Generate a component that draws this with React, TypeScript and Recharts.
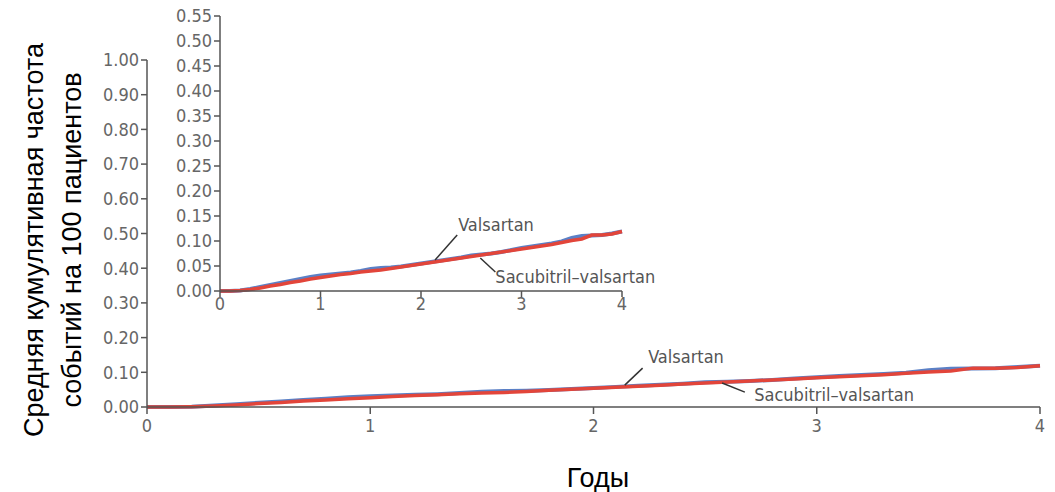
import React from 'react';
import { LineChart, Line, XAxis, YAxis, ReferenceLine, ReferenceDot } from 'recharts';

const years = [
  0, 0.1, 0.2, 0.3, 0.4, 0.5, 0.6, 0.7, 0.8, 0.9, 1, 1.1, 1.2, 1.3, 1.4, 1.5, 1.6, 1.7, 1.8, 1.9, 2,
  2.1, 2.2, 2.3, 2.4, 2.5, 2.6, 2.7, 2.8, 2.9, 3, 3.1, 3.2, 3.3, 3.4, 3.5, 3.6, 3.7, 3.8, 3.9, 4,
];
const valsartan = [
  0, 0, 0.001, 0.004, 0.008, 0.012, 0.016, 0.02, 0.024, 0.028, 0.031, 0.033, 0.035, 0.037, 0.04, 0.044,
  0.046, 0.047, 0.049, 0.052, 0.055, 0.058, 0.061, 0.064, 0.067, 0.071, 0.073, 0.075, 0.078, 0.082, 0.086,
  0.089, 0.092, 0.095, 0.099, 0.106, 0.11, 0.111, 0.112, 0.115, 0.119,
];
const sacubitril = [
  0, 0, 0.001, 0.003, 0.006, 0.01, 0.013, 0.017, 0.02, 0.024, 0.027, 0.03, 0.033, 0.035, 0.038, 0.04,
  0.042, 0.045, 0.048, 0.051, 0.054, 0.057, 0.06, 0.063, 0.066, 0.069, 0.072, 0.075, 0.078, 0.081, 0.084,
  0.087, 0.09, 0.093, 0.097, 0.101, 0.104, 0.112, 0.112, 0.114, 0.119,
];
const xTicks = [0, 1, 2, 3, 4];
const mainYTicks = [0, 0.1, 0.2, 0.3, 0.4, 0.5, 0.6, 0.7, 0.8, 0.9, 1];
const insetYTicks = [0, 0.05, 0.1, 0.15, 0.2, 0.25, 0.3, 0.35, 0.4, 0.45, 0.5, 0.55];
const seriesNames = ['Valsartan', 'Sacubitril–valsartan'];
const yTitle = ['Средняя кумулятивная частота', 'событий на 100 пациентов'];
const xTitle = 'Годы';

const data = years.map((t, i) => ({ t, v: valsartan[i], s: sacubitril[i] }));

const BLUE = '#5b80c6';
const RED = '#e2453a';
const AXIS = '#555';
const tickFont = {
  fill: '#666',
  fontSize: 18,
  fontFamily: '"DejaVu Sans Condensed", "Liberation Sans Narrow", sans-serif',
};
const noteLabel = (value: string) => ({
  value,
  position: 'right' as const,
  offset: 0,
  ...tickFont,
  fill: '#555',
});

function Series() {
  return [
    <Line key="v" dataKey="v" type="linear" stroke={BLUE} strokeWidth={4} dot={false} isAnimationActive={false} />,
    <Line key="s" dataKey="s" type="linear" stroke={RED} strokeWidth={3.5} dot={false} isAnimationActive={false} />,
  ];
}

export default function App() {
  return (
    <div style={{ position: 'absolute', left: 0, top: 0, width: 1055, height: 492, background: '#fff' }}>
      <div style={{ position: 'absolute', left: 0, top: 0 }}>
        <LineChart width={1055} height={492} data={data} margin={{ top: 60, right: 15, bottom: 0, left: 0 }}>
          <XAxis
            dataKey="t"
            type="number"
            domain={[0, 4]}
            ticks={xTicks}
            interval={0}
            height={85}
            stroke={AXIS}
            strokeWidth={1.5}
            tickSize={7}
            tickMargin={5}
            tick={tickFont}
          />
          <YAxis
            type="number"
            domain={[0, 1]}
            ticks={mainYTicks}
            interval={0}
            width={147}
            stroke={AXIS}
            strokeWidth={1.5}
            tickSize={6}
            tick={tickFont}
            tickFormatter={(v: number) => v.toFixed(2)}
          />
          {Series()}
          <ReferenceLine segment={[{ x: 2.14, y: 0.063 }, { x: 2.22, y: 0.112 }]} stroke="#333" strokeWidth={1.5} />
          <ReferenceDot x={2.245} y={0.144} r={0} label={noteLabel(seriesNames[0])} />
          <ReferenceLine segment={[{ x: 2.576, y: 0.069 }, { x: 2.678, y: 0.043 }]} stroke="#333" strokeWidth={1.5} />
          <ReferenceDot x={2.72} y={0.035} r={0} label={noteLabel(seriesNames[1])} />
        </LineChart>
      </div>
      <div style={{ position: 'absolute', left: 0, top: 0 }}>
        <LineChart width={720} height={320} data={data} margin={{ top: 16, right: 98, bottom: 0, left: 0 }}>
          <XAxis
            dataKey="t"
            type="number"
            domain={[0, 4]}
            ticks={xTicks}
            interval={0}
            height={29}
            stroke={AXIS}
            strokeWidth={1.5}
            tickSize={6}
            tickMargin={0}
            tick={tickFont}
          />
          <YAxis
            type="number"
            domain={[0, 0.55]}
            ticks={insetYTicks}
            interval={0}
            width={220}
            stroke={AXIS}
            strokeWidth={1.5}
            tickSize={6}
            tick={tickFont}
            tickFormatter={(v: number) => v.toFixed(2)}
          />
          {Series()}
          <ReferenceLine segment={[{ x: 2.14, y: 0.062 }, { x: 2.36, y: 0.112 }]} stroke="#333" strokeWidth={1.5} />
          <ReferenceDot x={2.37} y={0.132} r={0} label={noteLabel(seriesNames[0])} />
          <ReferenceLine segment={[{ x: 2.59, y: 0.066 }, { x: 2.74, y: 0.038 }]} stroke="#333" strokeWidth={1.5} />
          <ReferenceDot x={2.74} y={0.028} r={0} label={noteLabel(seriesNames[1])} />
        </LineChart>
      </div>
      <svg width={1055} height={492} style={{ position: 'absolute', left: 0, top: 0, pointerEvents: 'none' }}>
        <g fontFamily='"Liberation Sans", Arial, sans-serif' fontSize={27} fill="#000">
          <text transform="translate(43,240) rotate(-90)" textAnchor="middle">{yTitle[0]}</text>
          <text transform="translate(81,240) rotate(-90)" textAnchor="middle">{yTitle[1]}</text>
          <text x={598} y={487} textAnchor="middle">{xTitle}</text>
        </g>
      </svg>
    </div>
  );
}
